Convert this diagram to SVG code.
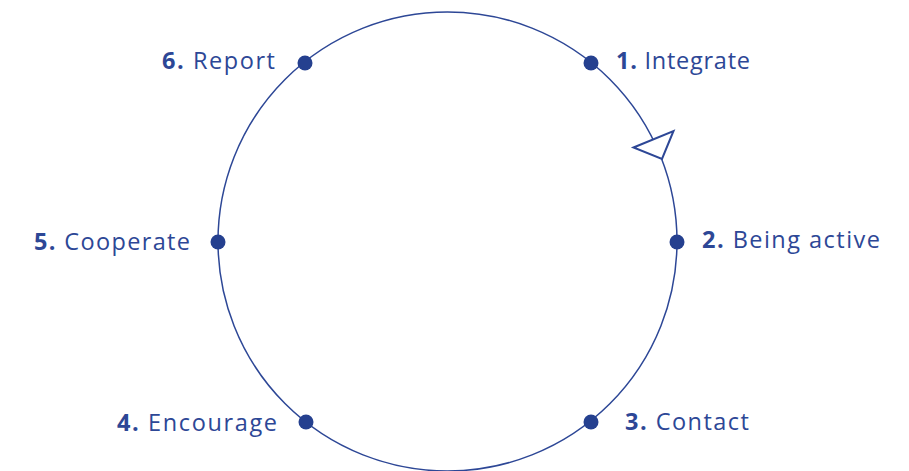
<svg xmlns="http://www.w3.org/2000/svg" width="909" height="471" viewBox="0 0 909 471">
  <style>
    .ring { fill: none; stroke: #2d4796; stroke-width: 1.5; }
    .dot { fill: #25408f; }
    .lbl { font-family: "Open Sans", "Liberation Sans", sans-serif; font-size: 23.5px; fill: #2d4796; }
    .num { font-weight: 700; }
    .head { fill: #ffffff; stroke: #2d4796; stroke-width: 2; stroke-linejoin: miter; }
  </style>
  <rect width="909" height="471" fill="#ffffff"/>
  <g id="connectors">
    <circle class="ring" cx="447.5" cy="241.5" r="229.5"/>
    <!-- clockwise direction marker -->
    <polygon class="head" points="633.5,147.5 673.5,131 662,159"/>
  </g>
  <g id="step1">
    <circle class="dot" cx="591" cy="63" r="7.5"/>
    <text class="lbl" x="616" y="69" textLength="134" lengthAdjust="spacing"><tspan class="num">1.</tspan> Integrate</text>
  </g>
  <g id="step2">
    <circle class="dot" cx="677" cy="242" r="7.5"/>
    <text class="lbl" x="702" y="248" textLength="178" lengthAdjust="spacing"><tspan class="num">2.</tspan> Being active</text>
  </g>
  <g id="step3">
    <circle class="dot" cx="591" cy="422" r="7.5"/>
    <text class="lbl" x="625" y="430" textLength="124" lengthAdjust="spacing"><tspan class="num">3.</tspan> Contact</text>
  </g>
  <g id="step4">
    <circle class="dot" cx="306" cy="422" r="7.5"/>
    <text class="lbl" x="117" y="431" textLength="160" lengthAdjust="spacing"><tspan class="num">4.</tspan> Encourage</text>
  </g>
  <g id="step5">
    <circle class="dot" cx="218" cy="242" r="7.5"/>
    <text class="lbl" x="34" y="250" textLength="156" lengthAdjust="spacing"><tspan class="num">5.</tspan> Cooperate</text>
  </g>
  <g id="step6">
    <circle class="dot" cx="305" cy="63" r="7.5"/>
    <text class="lbl" x="162" y="69" textLength="113" lengthAdjust="spacing"><tspan class="num">6.</tspan> Report</text>
  </g>
</svg>
